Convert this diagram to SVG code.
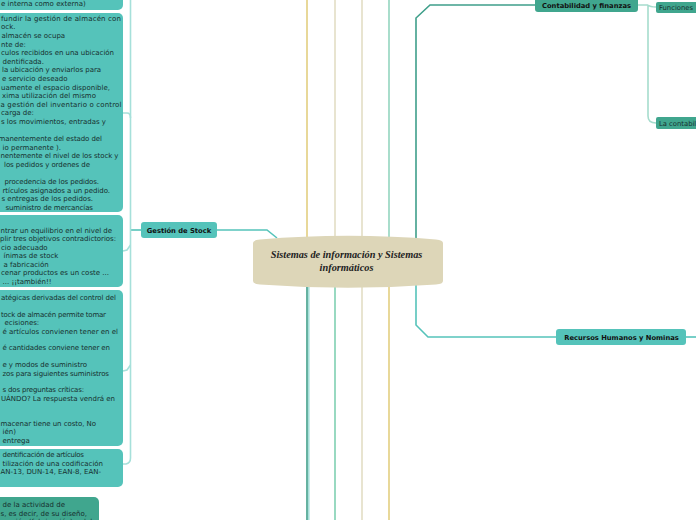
<svg xmlns="http://www.w3.org/2000/svg" width="696" height="520" viewBox="0 0 696 520">
<style>
.box{fill:#55c3ba}
.dk{fill:#40a68e}
.t{font-family:"DejaVu Sans","Verdana",sans-serif;font-size:7px;fill:#17302e}
.b{font-family:"DejaVu Sans","Verdana",sans-serif;font-size:6.75px;font-weight:bold;fill:#111;text-anchor:middle}
.c{fill:none;stroke-width:1.6}
.ctr{font-family:"Liberation Serif","Times New Roman",serif;font-size:10.3px;font-weight:bold;font-style:italic;fill:#222;text-anchor:middle}
</style>
<rect width="696" height="520" fill="#fff"/>
<g id="connectors">
  <line class="c" x1="307" y1="0" x2="307" y2="240" stroke="#e3cf80"/>
  <line class="c" x1="335" y1="0" x2="335" y2="240" stroke="#e3dec5"/>
  <line class="c" x1="362" y1="0" x2="362" y2="240" stroke="#e3dec5"/>
  <line class="c" x1="389" y1="0" x2="389" y2="240" stroke="#93d5bf"/>
  <line class="c" x1="307" y1="282" x2="307" y2="520" stroke="#3f9f8a"/>
  <line class="c" x1="308.8" y1="282" x2="308.8" y2="520" stroke="#a6e0da" stroke-width="1.2"/>
  <line class="c" x1="335" y1="282" x2="335" y2="520" stroke="#7fd0b2"/>
  <line class="c" x1="362" y1="282" x2="362" y2="520" stroke="#e3dec5"/>
  <line class="c" x1="389" y1="282" x2="389" y2="520" stroke="#e3cf80"/>
  <path class="c" d="M416,240 L416,18 L430,5 L536,5" stroke="#3f9f8a"/>
  <path class="c" d="M638,5 L648,5 M648,5 L648,116 Q648,123 656,123 M648,5 Q650,7 656,7" stroke="#a6dccd" stroke-width="1.2"/>
  <path class="c" d="M416,282 L416,325 L428,337 L556,337" stroke="#55c3ba"/>
  <line class="c" x1="686" y1="337" x2="696" y2="337" stroke="#55c3ba"/>
  <path class="c" d="M217,230 L267,230 L277,238" stroke="#55c3ba"/>
  <line class="c" x1="130.5" y1="230" x2="141" y2="230" stroke="#55c3ba"/>
  <path class="c" d="M130.5,0 L130.5,458 Q130.5,463 126,464 L123,464" stroke="#a6e0da" stroke-width="1.2"/>
  <path class="c" d="M123,113 L127,113 Q130.5,113 130.5,118" stroke="#a6e0da" stroke-width="1.2"/>
  <path class="c" d="M123,251 L127,250 L130.5,245" stroke="#a6e0da" stroke-width="1.2"/>
  <path class="c" d="M123,371 L127,370 L130.5,365" stroke="#a6e0da" stroke-width="1.2"/>
</g>
<g id="node-central">
  <path d="M253,243 Q253,240 260,239.5 Q348,232 436,239.5 Q443,240 443,243 L443,281 Q443,284 436,284.5 Q348,291 260,284.5 Q253,284 253,281 Z" fill="#ddd6b8"/>
  <text class="ctr" x="346.5" y="257.5">Sistemas de información y Sistemas</text>
  <text class="ctr" x="346.5" y="271">informáticos</text>
</g>
<g id="node-gestion">
  <rect class="box" x="141" y="222" width="76" height="16" rx="3"/>
  <text class="b" x="179" y="232.5">Gestión de Stock</text>
</g>
<g id="node-contabilidad">
  <rect class="dk" x="535" y="-3" width="103" height="15" rx="3"/>
  <text class="b" x="586.5" y="7.5">Contabilidad y finanzas</text>
</g>
<g id="node-funciones">
  <rect class="dk" x="656" y="2" width="50" height="11" rx="2"/>
  <text class="t" x="659" y="10" style="font-size:6.8px">Funciones</text>
</g>
<g id="node-lacontabilidad">
  <rect class="dk" x="656" y="117" width="50" height="12" rx="2"/>
  <text class="t" x="659" y="125.5" style="font-size:6.8px">La contabilidad</text>
</g>
<g id="node-rrhh">
  <rect class="box" x="556" y="329" width="130" height="16" rx="3"/>
  <text class="b" x="621.5" y="339.5">Recursos Humanos y Nominas</text>
</g>
<g id="box0">
  <rect class="box" x="-10" y="-10" width="133" height="20" rx="5"/>
  <text class="t" x="1" y="6">e interna como externa)</text>
</g>
<g id="box1">
  <rect class="box" x="-10" y="13" width="133" height="199" rx="5"/>
  <text class="t" y="20.8">
    <tspan x="1" textLength="120">fundir la gestión de almacén con</tspan>
    <tspan x="1" dy="8.6">ock.</tspan>
    <tspan x="1.5" dy="8.6">almacén se ocupa</tspan>
    <tspan x="1" dy="8.6">nte de:</tspan>
    <tspan x="1" dy="8.6" textLength="113">culos recibidos en una ubicación</tspan>
    <tspan x="2.5" dy="8.6">dentificada.</tspan>
    <tspan x="2" dy="8.6" textLength="99">la ubicación y enviarlos para</tspan>
    <tspan x="2" dy="8.6">e servicio deseado</tspan>
    <tspan x="1" dy="8.6" textLength="109">uamente el espacio disponible,</tspan>
    <tspan x="2" dy="8.6" textLength="94">xima utilización del mismo</tspan>
    <tspan x="0.5" dy="8.6" textLength="121">a gestión del inventario o control</tspan>
    <tspan x="1" dy="8.6">carga de:</tspan>
    <tspan x="1" dy="8.6" textLength="105">s los movimientos, entradas y</tspan>
    <tspan x="-1.5" dy="17.2" textLength="103.5">manentemente del estado del</tspan>
    <tspan x="2.5" dy="8.6">io permanente ).</tspan>
    <tspan x="0.5" dy="8.6" textLength="118">nentemente el nivel de los stock y</tspan>
    <tspan x="4" dy="8.6" textLength="86">los pedidos y ordenes de</tspan>
    <tspan x="4.5" dy="17.2" textLength="94.5">procedencia de los pedidos.</tspan>
    <tspan x="2.5" dy="8.6" textLength="107.5">rtículos asignados a un pedido.</tspan>
    <tspan x="1.5" dy="8.6" textLength="91.5">s entregas de los pedidos.</tspan>
    <tspan x="5.5" dy="8.6" textLength="87.5">suministro de mercancías</tspan>
  </text>
</g>
<g id="box2">
  <rect class="box" x="-10" y="215" width="133" height="72" rx="5"/>
  <text class="t" y="233">
    <tspan x="0.5" textLength="111.5">ntrar un equilibrio en el nivel de</tspan>
    <tspan x="0" dy="8.45" textLength="116">plir tres objetivos contradictorios:</tspan>
    <tspan x="1" dy="8.45">cio adecuado</tspan>
    <tspan x="3.5" dy="8.45">ínimas de stock</tspan>
    <tspan x="3.5" dy="8.45">a fabricación</tspan>
    <tspan x="1" dy="8.45" textLength="108">cenar productos es un coste ...</tspan>
    <tspan x="2.5" dy="8.45">... ¡¡también!!</tspan>
  </text>
</g>
<g id="box3">
  <rect class="box" x="-10" y="290" width="133" height="156" rx="5"/>
  <text class="t" y="300">
    <tspan x="1" textLength="115">atégicas derivadas del control del</tspan>
    <tspan x="1" dy="16.8" textLength="105">tock de almacén permite tomar</tspan>
    <tspan x="4.5" dy="8.4">ecisiones:</tspan>
    <tspan x="2.5" dy="8.4" textLength="115.5">é artículos convienen tener en el</tspan>
    <tspan x="2.5" dy="16.8" textLength="107.5">é cantidades conviene tener en</tspan>
    <tspan x="2.5" dy="16.8" textLength="84.5">e y modos de suministro</tspan>
    <tspan x="2.5" dy="8.4" textLength="106.5">zos para siguientes suministros</tspan>
    <tspan x="2.5" dy="16.8" textLength="81.5">s dos preguntas críticas:</tspan>
    <tspan x="1" dy="8.4" textLength="114">UÁNDO? La respuesta vendrá en</tspan>
    <tspan x="0.5" dy="25.2" textLength="95.5">macenar tiene un costo, No</tspan>
    <tspan x="2.5" dy="8.4">ién)</tspan>
    <tspan x="2.5" dy="8.4">entrega</tspan>
  </text>
</g>
<g id="box4">
  <rect class="box" x="-10" y="449" width="133" height="38" rx="5"/>
  <text class="t" y="457">
    <tspan x="2.5" textLength="81.5">dentificación de artículos</tspan>
    <tspan x="2.5" dy="8.5" textLength="100.5">tilización de una codificación</tspan>
    <tspan x="0.5" dy="8.5" textLength="100.5">AN-13, DUN-14, EAN-8, EAN-</tspan>
  </text>
</g>
<g id="box5">
  <rect class="dk" x="-10" y="497" width="109" height="40" rx="5"/>
  <text class="t" y="507">
    <tspan x="2.5">de la actividad de</tspan>
    <tspan x="0.5" dy="8.5" textLength="86.5">s, es decir, de su diseño,</tspan>
    <tspan x="0.5" dy="8.5">eración (fabricación) y del</tspan>
  </text>
</g>
</svg>
